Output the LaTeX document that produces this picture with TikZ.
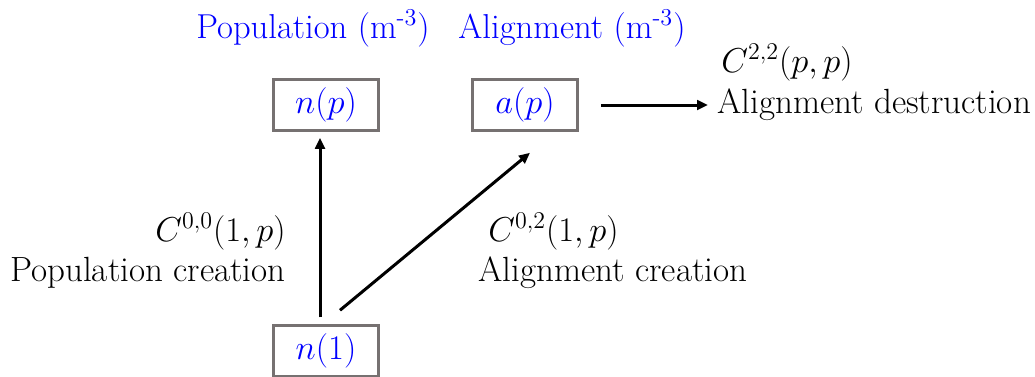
\documentclass[tikz,border=0pt]{standalone}
\usepackage{fontspec}
\usepackage{tikz}
\usetikzlibrary{arrows.meta,positioning,calc}
\definecolor{ink}{RGB}{0,0,0}
\definecolor{qblue}{RGB}{0,0,255}
\definecolor{boxgray}{RGB}{118,113,113}
\tikzset{
  flow/.style={line width=1.5pt,ink,-{Triangle[length=5.5pt,width=4.8pt]}},
  state/.style={draw=boxgray,line width=1.25pt,text=qblue,
    minimum width=52.5pt,minimum height=25.5pt,inner sep=0pt,
    font=\fontsize{17.28}{21}\selectfont},
  qty/.style={text=qblue,inner sep=0pt,font=\fontsize{17.3}{21}\selectfont},
  label/.style={text=ink,inner sep=0pt,font=\fontsize{17.5}{21}\selectfont},
  rate/.style={text=ink,inner sep=0pt,font=\fontsize{17.28}{21}\selectfont}
}
\begin{document}
\begin{tikzpicture}[x=0.5pt,y=-0.5pt]
  \useasboundingbox (0,0) rectangle (1035,376);
  % quantities
  \node[qty,anchor=base] (popT) at (313,38) {Population (m\textsuperscript{-3})};
  \node[qty,anchor=base] (aliT) at (572,38) {Alignment (m\textsuperscript{-3})};
  \node[state] (np) at (326,105) {$n(p)$};
  \node[state] (ap) at (525,105) {$a(p)$};
  \node[state] (n1) at (326,351) {$n(1)$};
  % collision terms
  \node[rate,anchor=base west] (c22) at (721,72) {$C^{2,2}(p,p)$};
  \node[label,anchor=base west] (destr) at (717,113) {Alignment destruction};
  \node[rate,anchor=base east] (c00) at (286,241) {$C^{0,0}(1,p)$};
  \node[label,anchor=base east] (popC) at (286,281) {Population creation};
  \node[rate,anchor=base west] (c02) at (488,241) {$C^{0,2}(1,p)$};
  \node[label,anchor=base west] (aliC) at (478,281) {Alignment creation};
  % transitions
  \draw[flow] ($(n1.north)+(-6,-7)$) -- ($(np.south)+(-6,6)$);
  \draw[flow] ($(n1.north)+(14,-14)$) -- ($(ap.south)+(5,21)$);
  \draw[flow] ($(ap.east)+(22,0)$) -- ($(destr.west|-ap.east)+(-9,0)$);
\end{tikzpicture}
\end{document}
